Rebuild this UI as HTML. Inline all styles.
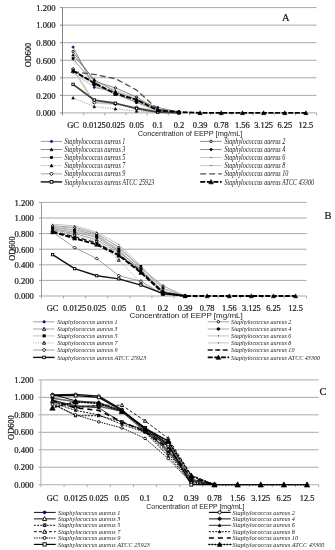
<!DOCTYPE html>
<html><head><meta charset="utf-8"><style>
html,body{margin:0;padding:0;background:#fff;}
svg{display:block;filter:blur(0.25px);}
.t{stroke:#1a1a1a;stroke-width:0.22px;}
</style></head><body>
<svg width="335" height="550" viewBox="0 0 335 550">
<rect width="335" height="550" fill="#fff"/>
<line x1="62.5" y1="95.35" x2="316.5" y2="95.35" stroke="#a9a9a9" stroke-width="1"/>
<line x1="62.5" y1="77.8" x2="316.5" y2="77.8" stroke="#a9a9a9" stroke-width="1"/>
<line x1="62.5" y1="60.25" x2="316.5" y2="60.25" stroke="#a9a9a9" stroke-width="1"/>
<line x1="62.5" y1="42.7" x2="316.5" y2="42.7" stroke="#a9a9a9" stroke-width="1"/>
<line x1="62.5" y1="25.15" x2="316.5" y2="25.15" stroke="#a9a9a9" stroke-width="1"/>
<line x1="62.5" y1="7.6" x2="316.5" y2="7.6" stroke="#a9a9a9" stroke-width="1"/>
<line x1="62.5" y1="7.6" x2="62.5" y2="115.4" stroke="#858585" stroke-width="1"/>
<line x1="62.5" y1="112.9" x2="316.5" y2="112.9" stroke="#a8a8a8" stroke-width="1"/>
<line x1="60" y1="112.9" x2="62.5" y2="112.9" stroke="#858585" stroke-width="1"/>
<line x1="60" y1="95.35" x2="62.5" y2="95.35" stroke="#858585" stroke-width="1"/>
<line x1="60" y1="77.8" x2="62.5" y2="77.8" stroke="#858585" stroke-width="1"/>
<line x1="60" y1="60.25" x2="62.5" y2="60.25" stroke="#858585" stroke-width="1"/>
<line x1="60" y1="42.7" x2="62.5" y2="42.7" stroke="#858585" stroke-width="1"/>
<line x1="60" y1="25.15" x2="62.5" y2="25.15" stroke="#858585" stroke-width="1"/>
<line x1="60" y1="7.6" x2="62.5" y2="7.6" stroke="#858585" stroke-width="1"/>
<line x1="83.67" y1="112.9" x2="83.67" y2="115.4" stroke="#a8a8a8" stroke-width="1"/>
<line x1="104.83" y1="112.9" x2="104.83" y2="115.4" stroke="#a8a8a8" stroke-width="1"/>
<line x1="126" y1="112.9" x2="126" y2="115.4" stroke="#a8a8a8" stroke-width="1"/>
<line x1="147.17" y1="112.9" x2="147.17" y2="115.4" stroke="#a8a8a8" stroke-width="1"/>
<line x1="168.33" y1="112.9" x2="168.33" y2="115.4" stroke="#a8a8a8" stroke-width="1"/>
<line x1="189.5" y1="112.9" x2="189.5" y2="115.4" stroke="#a8a8a8" stroke-width="1"/>
<line x1="210.67" y1="112.9" x2="210.67" y2="115.4" stroke="#a8a8a8" stroke-width="1"/>
<line x1="231.83" y1="112.9" x2="231.83" y2="115.4" stroke="#a8a8a8" stroke-width="1"/>
<line x1="253" y1="112.9" x2="253" y2="115.4" stroke="#a8a8a8" stroke-width="1"/>
<line x1="274.17" y1="112.9" x2="274.17" y2="115.4" stroke="#a8a8a8" stroke-width="1"/>
<line x1="295.33" y1="112.9" x2="295.33" y2="115.4" stroke="#a8a8a8" stroke-width="1"/>
<line x1="316.5" y1="112.9" x2="316.5" y2="115.4" stroke="#a8a8a8" stroke-width="1"/>
<text x="55.6" y="116.2" text-anchor="end" class="t" font-family="Liberation Serif" font-size="8.6" fill="#1a1a1a">0.000</text>
<text x="55.6" y="98.65" text-anchor="end" class="t" font-family="Liberation Serif" font-size="8.6" fill="#1a1a1a">0.200</text>
<text x="55.6" y="81.1" text-anchor="end" class="t" font-family="Liberation Serif" font-size="8.6" fill="#1a1a1a">0.400</text>
<text x="55.6" y="63.55" text-anchor="end" class="t" font-family="Liberation Serif" font-size="8.6" fill="#1a1a1a">0.600</text>
<text x="55.6" y="46" text-anchor="end" class="t" font-family="Liberation Serif" font-size="8.6" fill="#1a1a1a">0.800</text>
<text x="55.6" y="28.45" text-anchor="end" class="t" font-family="Liberation Serif" font-size="8.6" fill="#1a1a1a">1.000</text>
<text x="55.6" y="10.9" text-anchor="end" class="t" font-family="Liberation Serif" font-size="8.6" fill="#1a1a1a">1.200</text>
<text x="73.08" y="128.3" text-anchor="middle" class="t" font-family="Liberation Serif" font-size="8.4" fill="#1a1a1a">GC</text>
<text x="94.25" y="128.3" text-anchor="middle" class="t" font-family="Liberation Serif" font-size="8.4" fill="#1a1a1a">0.0125</text>
<text x="115.42" y="128.3" text-anchor="middle" class="t" font-family="Liberation Serif" font-size="8.4" fill="#1a1a1a">0.025</text>
<text x="136.58" y="128.3" text-anchor="middle" class="t" font-family="Liberation Serif" font-size="8.4" fill="#1a1a1a">0.05</text>
<text x="157.75" y="128.3" text-anchor="middle" class="t" font-family="Liberation Serif" font-size="8.4" fill="#1a1a1a">0.1</text>
<text x="178.92" y="128.3" text-anchor="middle" class="t" font-family="Liberation Serif" font-size="8.4" fill="#1a1a1a">0.2</text>
<text x="200.08" y="128.3" text-anchor="middle" class="t" font-family="Liberation Serif" font-size="8.4" fill="#1a1a1a">0.39</text>
<text x="221.25" y="128.3" text-anchor="middle" class="t" font-family="Liberation Serif" font-size="8.4" fill="#1a1a1a">0.78</text>
<text x="242.42" y="128.3" text-anchor="middle" class="t" font-family="Liberation Serif" font-size="8.4" fill="#1a1a1a">1.56</text>
<text x="263.58" y="128.3" text-anchor="middle" class="t" font-family="Liberation Serif" font-size="8.4" fill="#1a1a1a">3.125</text>
<text x="284.75" y="128.3" text-anchor="middle" class="t" font-family="Liberation Serif" font-size="8.4" fill="#1a1a1a">6.25</text>
<text x="305.92" y="128.3" text-anchor="middle" class="t" font-family="Liberation Serif" font-size="8.4" fill="#1a1a1a">12.5</text>
<text x="137.7" y="136.4" font-family="Liberation Sans" font-size="7.4" fill="#1a1a1a" transform="translate(137.7 136.4) scale(1.0 1) translate(-137.7 -136.4)">Concentration of EEPP [mg/mL]</text>
<text x="0" y="0" text-anchor="middle" class="t" font-family="Liberation Serif" font-size="8.3" fill="#1a1a1a" transform="translate(30.8 55) rotate(-90)">OD600</text>
<text x="282" y="21.1" class="t" font-family="Liberation Serif" font-size="10.5" font-weight="normal" fill="#1a1a1a">A</text>
<polyline points="73.08,47.09 94.25,87.45 115.42,91.84 136.58,99.74 157.75,107.37 178.92,112.02" fill="none" stroke="#7f7f7f" stroke-width="0.8" stroke-linejoin="round"/>
<polyline points="73.08,51.47 94.25,81.31 115.42,87.89 136.58,97.11 157.75,109.39 178.92,112.02" fill="none" stroke="#6f6f6f" stroke-width="0.8" stroke-linejoin="round"/>
<polyline points="73.08,54.98 94.25,79.56 115.42,91.84 136.58,99.74 157.75,110.27 178.92,112.02" fill="none" stroke="#6f6f6f" stroke-width="0.8" stroke-linejoin="round"/>
<polyline points="73.08,69.9 94.25,83.94 115.42,93.59 136.58,102.37 157.75,110.27 178.92,112.02" fill="none" stroke="#6f6f6f" stroke-width="0.8" stroke-linejoin="round"/>
<polyline points="73.08,58.5 94.25,84.82 115.42,94.47 136.58,102.37 157.75,111.15 178.92,112.02" fill="none" stroke="#a0a0a0" stroke-width="0.8" stroke-linejoin="round"/>
<polyline points="73.08,60.25 94.25,81.31 115.42,90.09 136.58,98.86 157.75,109.39 178.92,112.02" fill="none" stroke="#b5b5b5" stroke-width="0.8" stroke-linejoin="round"/>
<polyline points="73.08,97.98 94.25,106.58 115.42,108.86 136.58,111.15 157.75,112.02 178.92,112.9" fill="none" stroke="#8a8a8a" stroke-width="0.8" stroke-dasharray="1.2,1.2" stroke-linejoin="round"/>
<polyline points="73.08,73.41 94.25,86.58 115.42,91.84 136.58,99.74 157.75,110.27 178.92,112.02" fill="none" stroke="#b5b5b5" stroke-width="0.8" stroke-linejoin="round"/>
<polyline points="73.08,69.03 94.25,102.63 115.42,104.12 136.58,107.64 157.75,111.15 178.92,112.02" fill="none" stroke="#c8c8c8" stroke-width="1.6" stroke-linejoin="round"/>
<polyline points="73.08,71.66 94.25,74.47 115.42,78.68 136.58,90.09 157.75,109.39 178.92,112.02" fill="none" stroke="#505050" stroke-width="1.3" stroke-dasharray="6,3" stroke-linejoin="round"/>
<polyline points="73.08,84.38 94.25,100.09 115.42,103.25 136.58,108.51 157.75,112.02 178.92,112.9" fill="none" stroke="#444444" stroke-width="1.8" stroke-linejoin="round"/>
<polyline points="73.08,70.78 94.25,83.06 115.42,93.59 136.58,99.74 157.75,110.27 178.92,112.02 200.08,112.9 221.25,112.9 242.42,112.9 263.58,112.9 284.75,112.9 305.92,112.9" fill="none" stroke="#000000" stroke-width="1.9" stroke-dasharray="5,1.6" stroke-linejoin="round"/>
<path d="M73.08 45.74L74.43 47.09L73.08 48.43L71.74 47.09Z" fill="#0a0a6e" stroke="#0a0a6e" stroke-width="0.6"/>
<path d="M94.25 86.11L95.59 87.45L94.25 88.8L92.91 87.45Z" fill="#0a0a6e" stroke="#0a0a6e" stroke-width="0.6"/>
<path d="M115.42 90.5L116.76 91.84L115.42 93.18L114.07 91.84Z" fill="#0a0a6e" stroke="#0a0a6e" stroke-width="0.6"/>
<path d="M136.58 98.39L137.93 99.74L136.58 101.08L135.24 99.74Z" fill="#0a0a6e" stroke="#0a0a6e" stroke-width="0.6"/>
<path d="M157.75 106.03L159.09 107.37L157.75 108.72L156.41 107.37Z" fill="#0a0a6e" stroke="#0a0a6e" stroke-width="0.6"/>
<path d="M178.92 110.68L180.26 112.02L178.92 113.37L177.57 112.02Z" fill="#0a0a6e" stroke="#0a0a6e" stroke-width="0.6"/>
<circle cx="73.08" cy="51.47" r="1.09" fill="#fff" stroke="#000" stroke-width="0.9"/>
<circle cx="94.25" cy="81.31" r="1.09" fill="#fff" stroke="#000" stroke-width="0.9"/>
<circle cx="115.42" cy="87.89" r="1.09" fill="#fff" stroke="#000" stroke-width="0.9"/>
<circle cx="136.58" cy="97.11" r="1.09" fill="#fff" stroke="#000" stroke-width="0.9"/>
<circle cx="157.75" cy="109.39" r="1.09" fill="#fff" stroke="#000" stroke-width="0.9"/>
<circle cx="178.92" cy="112.02" r="1.09" fill="#fff" stroke="#000" stroke-width="0.9"/>
<path d="M73.08 53.6L74.4 56.12L71.76 56.12Z" fill="#000" stroke="#000" stroke-width="0.6"/>
<path d="M94.25 78.18L95.57 80.7L92.93 80.7Z" fill="#000" stroke="#000" stroke-width="0.6"/>
<path d="M115.42 90.46L116.74 92.98L114.1 92.98Z" fill="#000" stroke="#000" stroke-width="0.6"/>
<path d="M136.58 98.36L137.9 100.88L135.26 100.88Z" fill="#000" stroke="#000" stroke-width="0.6"/>
<path d="M157.75 108.89L159.07 111.41L156.43 111.41Z" fill="#000" stroke="#000" stroke-width="0.6"/>
<path d="M178.92 110.64L180.24 113.16L177.6 113.16Z" fill="#000" stroke="#000" stroke-width="0.6"/>
<path d="M73.08 68.56L74.43 69.9L73.08 71.25L71.74 69.9Z" fill="#000" stroke="#000" stroke-width="0.6"/>
<path d="M94.25 82.6L95.59 83.94L94.25 85.29L92.91 83.94Z" fill="#000" stroke="#000" stroke-width="0.6"/>
<path d="M115.42 92.25L116.76 93.59L115.42 94.94L114.07 93.59Z" fill="#000" stroke="#000" stroke-width="0.6"/>
<path d="M136.58 101.03L137.93 102.37L136.58 103.71L135.24 102.37Z" fill="#000" stroke="#000" stroke-width="0.6"/>
<path d="M157.75 108.92L159.09 110.27L157.75 111.61L156.41 110.27Z" fill="#000" stroke="#000" stroke-width="0.6"/>
<path d="M178.92 110.68L180.26 112.02L178.92 113.37L177.57 112.02Z" fill="#000" stroke="#000" stroke-width="0.6"/>
<rect x="72.04" y="57.46" width="2.08" height="2.08" fill="#000" stroke="#000" stroke-width="0.6"/>
<rect x="93.21" y="83.78" width="2.08" height="2.08" fill="#000" stroke="#000" stroke-width="0.6"/>
<rect x="114.38" y="93.43" width="2.08" height="2.08" fill="#000" stroke="#000" stroke-width="0.6"/>
<rect x="135.54" y="101.33" width="2.08" height="2.08" fill="#000" stroke="#000" stroke-width="0.6"/>
<rect x="156.71" y="110.11" width="2.08" height="2.08" fill="#000" stroke="#000" stroke-width="0.6"/>
<rect x="177.88" y="110.98" width="2.08" height="2.08" fill="#000" stroke="#000" stroke-width="0.6"/>
<rect x="72.68" y="59.85" width="0.8" height="0.8" fill="#000"/>
<rect x="93.85" y="80.91" width="0.8" height="0.8" fill="#000"/>
<rect x="115.02" y="89.69" width="0.8" height="0.8" fill="#000"/>
<rect x="136.18" y="98.46" width="0.8" height="0.8" fill="#000"/>
<rect x="157.35" y="108.99" width="0.8" height="0.8" fill="#000"/>
<rect x="178.52" y="111.62" width="0.8" height="0.8" fill="#000"/>
<path d="M73.08 96.6L74.4 99.12L71.76 99.12Z" fill="#000" stroke="#000" stroke-width="0.6"/>
<path d="M94.25 105.2L95.57 107.72L92.93 107.72Z" fill="#000" stroke="#000" stroke-width="0.6"/>
<path d="M115.42 107.48L116.74 110L114.1 110Z" fill="#000" stroke="#000" stroke-width="0.6"/>
<path d="M136.58 109.77L137.9 112.29L135.26 112.29Z" fill="#000" stroke="#000" stroke-width="0.6"/>
<path d="M157.75 110.64L159.07 113.16L156.43 113.16Z" fill="#000" stroke="#000" stroke-width="0.6"/>
<path d="M178.92 111.52L180.24 114.04L177.6 114.04Z" fill="#000" stroke="#000" stroke-width="0.6"/>
<rect x="72.68" y="73.01" width="0.8" height="0.8" fill="#000"/>
<rect x="93.85" y="86.17" width="0.8" height="0.8" fill="#000"/>
<rect x="115.02" y="91.44" width="0.8" height="0.8" fill="#000"/>
<rect x="136.18" y="99.34" width="0.8" height="0.8" fill="#000"/>
<rect x="157.35" y="109.87" width="0.8" height="0.8" fill="#000"/>
<rect x="178.52" y="111.62" width="0.8" height="0.8" fill="#000"/>
<path d="M73.08 67.39L74.72 69.03L73.08 70.66L71.45 69.03Z" fill="#fff" stroke="#000" stroke-width="0.9"/>
<path d="M94.25 101L95.88 102.63L94.25 104.27L92.62 102.63Z" fill="#fff" stroke="#000" stroke-width="0.9"/>
<path d="M115.42 102.49L117.05 104.12L115.42 105.76L113.78 104.12Z" fill="#fff" stroke="#000" stroke-width="0.9"/>
<path d="M136.58 106L138.22 107.64L136.58 109.27L134.95 107.64Z" fill="#fff" stroke="#000" stroke-width="0.9"/>
<path d="M157.75 109.51L159.38 111.15L157.75 112.78L156.12 111.15Z" fill="#fff" stroke="#000" stroke-width="0.9"/>
<path d="M178.92 110.39L180.55 112.02L178.92 113.65L177.28 112.02Z" fill="#fff" stroke="#000" stroke-width="0.9"/>
<rect x="71.88" y="83.18" width="2.4" height="2.4" fill="#fff" stroke="#000" stroke-width="0.9"/>
<rect x="93.05" y="98.89" width="2.4" height="2.4" fill="#fff" stroke="#000" stroke-width="0.9"/>
<rect x="114.22" y="102.05" width="2.4" height="2.4" fill="#fff" stroke="#000" stroke-width="0.9"/>
<rect x="135.38" y="107.31" width="2.4" height="2.4" fill="#fff" stroke="#000" stroke-width="0.9"/>
<rect x="156.55" y="110.82" width="2.4" height="2.4" fill="#fff" stroke="#000" stroke-width="0.9"/>
<rect x="177.72" y="111.7" width="2.4" height="2.4" fill="#fff" stroke="#000" stroke-width="0.9"/>
<path d="M73.08 68.66L75.11 72.53L71.06 72.53Z" fill="#000" stroke="#000" stroke-width="0.6"/>
<path d="M94.25 80.95L96.27 84.81L92.23 84.81Z" fill="#000" stroke="#000" stroke-width="0.6"/>
<path d="M115.42 91.48L117.44 95.34L113.39 95.34Z" fill="#000" stroke="#000" stroke-width="0.6"/>
<path d="M136.58 97.62L138.61 101.49L134.56 101.49Z" fill="#000" stroke="#000" stroke-width="0.6"/>
<path d="M157.75 108.15L159.77 112.02L155.73 112.02Z" fill="#000" stroke="#000" stroke-width="0.6"/>
<path d="M178.92 109.91L180.94 113.77L176.89 113.77Z" fill="#000" stroke="#000" stroke-width="0.6"/>
<path d="M200.08 110.78L202.11 114.65L198.06 114.65Z" fill="#000" stroke="#000" stroke-width="0.6"/>
<path d="M221.25 110.78L223.27 114.65L219.23 114.65Z" fill="#000" stroke="#000" stroke-width="0.6"/>
<path d="M242.42 110.78L244.44 114.65L240.39 114.65Z" fill="#000" stroke="#000" stroke-width="0.6"/>
<path d="M263.58 110.78L265.61 114.65L261.56 114.65Z" fill="#000" stroke="#000" stroke-width="0.6"/>
<path d="M284.75 110.78L286.77 114.65L282.73 114.65Z" fill="#000" stroke="#000" stroke-width="0.6"/>
<path d="M305.92 110.78L307.94 114.65L303.89 114.65Z" fill="#000" stroke="#000" stroke-width="0.6"/>
<line x1="40.7" y1="141.4" x2="62.1" y2="141.4" stroke="#7f7f7f" stroke-width="0.8"/>
<path d="M51.5 139.89L53.01 141.4L51.5 142.91L49.99 141.4Z" fill="#0a0a6e" stroke="#0a0a6e" stroke-width="0.6"/>
<text x="64.6" y="143.5" font-family="Liberation Serif" font-style="italic" font-size="6.15" fill="#1a1a1a" transform="translate(64.6 141.4) scale(1 1.25) translate(-64.6 -141.4)">Staphylococcus aureus 1</text>
<line x1="40.7" y1="149.5" x2="62.1" y2="149.5" stroke="#6f6f6f" stroke-width="0.8"/>
<path d="M51.5 147.95L52.98 150.78L50.02 150.78Z" fill="#000" stroke="#000" stroke-width="0.6"/>
<text x="64.6" y="151.6" font-family="Liberation Serif" font-style="italic" font-size="6.15" fill="#1a1a1a" transform="translate(64.6 149.5) scale(1 1.25) translate(-64.6 -149.5)">Staphylococcus aureus 3</text>
<line x1="40.7" y1="157.5" x2="62.1" y2="157.5" stroke="#a0a0a0" stroke-width="0.8"/>
<rect x="50.33" y="156.33" width="2.34" height="2.34" fill="#000" stroke="#000" stroke-width="0.6"/>
<text x="64.6" y="159.6" font-family="Liberation Serif" font-style="italic" font-size="6.15" fill="#1a1a1a" transform="translate(64.6 157.5) scale(1 1.25) translate(-64.6 -157.5)">Staphylococcus aureus 5</text>
<line x1="40.7" y1="165.6" x2="62.1" y2="165.6" stroke="#8a8a8a" stroke-width="0.8" stroke-dasharray="1.2,1.2"/>
<path d="M51.5 164.05L52.98 166.88L50.02 166.88Z" fill="#000" stroke="#000" stroke-width="0.6"/>
<text x="64.6" y="167.7" font-family="Liberation Serif" font-style="italic" font-size="6.15" fill="#1a1a1a" transform="translate(64.6 165.6) scale(1 1.25) translate(-64.6 -165.6)">Staphylococcus aureus 7</text>
<line x1="40.7" y1="173.8" x2="62.1" y2="173.8" stroke="#c8c8c8" stroke-width="1.6"/>
<path d="M51.5 171.96L53.34 173.8L51.5 175.64L49.66 173.8Z" fill="#fff" stroke="#000" stroke-width="0.9"/>
<text x="64.6" y="175.9" font-family="Liberation Serif" font-style="italic" font-size="6.15" fill="#1a1a1a" transform="translate(64.6 173.8) scale(1 1.25) translate(-64.6 -173.8)">Staphylococcus aureus 9</text>
<line x1="40.7" y1="181.9" x2="62.1" y2="181.9" stroke="#444444" stroke-width="1.8"/>
<rect x="50.15" y="180.55" width="2.7" height="2.7" fill="#fff" stroke="#000" stroke-width="0.9"/>
<text x="64.6" y="184" font-family="Liberation Serif" font-style="italic" font-size="6.15" fill="#1a1a1a" transform="translate(64.6 181.9) scale(1 1.25) translate(-64.6 -181.9)">Staphylococcus aureus ATCC 25923</text>
<line x1="200.2" y1="141.4" x2="221.7" y2="141.4" stroke="#6f6f6f" stroke-width="0.8"/>
<circle cx="211.1" cy="141.4" r="1.22" fill="#fff" stroke="#000" stroke-width="0.9"/>
<text x="224.4" y="143.5" font-family="Liberation Serif" font-style="italic" font-size="6.15" fill="#1a1a1a" transform="translate(224.4 141.4) scale(1 1.25) translate(-224.4 -141.4)">Staphylococcus aureus 2</text>
<line x1="200.2" y1="149.5" x2="221.7" y2="149.5" stroke="#6f6f6f" stroke-width="0.8"/>
<path d="M211.1 147.99L212.61 149.5L211.1 151.01L209.59 149.5Z" fill="#000" stroke="#000" stroke-width="0.6"/>
<text x="224.4" y="151.6" font-family="Liberation Serif" font-style="italic" font-size="6.15" fill="#1a1a1a" transform="translate(224.4 149.5) scale(1 1.25) translate(-224.4 -149.5)">Staphylococcus aureus 4</text>
<line x1="200.2" y1="157.5" x2="221.7" y2="157.5" stroke="#b5b5b5" stroke-width="0.8"/>
<rect x="210.65" y="157.05" width="0.9" height="0.9" fill="#000"/>
<text x="224.4" y="159.6" font-family="Liberation Serif" font-style="italic" font-size="6.15" fill="#1a1a1a" transform="translate(224.4 157.5) scale(1 1.25) translate(-224.4 -157.5)">Staphylococcus aureus 6</text>
<line x1="200.2" y1="165.6" x2="221.7" y2="165.6" stroke="#b5b5b5" stroke-width="0.8"/>
<rect x="210.65" y="165.15" width="0.9" height="0.9" fill="#000"/>
<text x="224.4" y="167.7" font-family="Liberation Serif" font-style="italic" font-size="6.15" fill="#1a1a1a" transform="translate(224.4 165.6) scale(1 1.25) translate(-224.4 -165.6)">Staphylococcus aureus 8</text>
<line x1="200.2" y1="173.8" x2="221.7" y2="173.8" stroke="#505050" stroke-width="1.3" stroke-dasharray="6,3"/>

<text x="224.4" y="175.9" font-family="Liberation Serif" font-style="italic" font-size="6.15" fill="#1a1a1a" transform="translate(224.4 173.8) scale(1 1.25) translate(-224.4 -173.8)">Staphylococcus aureus 10</text>
<line x1="200.2" y1="181.9" x2="221.7" y2="181.9" stroke="#000000" stroke-width="1.9" stroke-dasharray="5,1.6"/>
<path d="M211.1 179.52L213.38 183.87L208.82 183.87Z" fill="#000" stroke="#000" stroke-width="0.6"/>
<text x="224.4" y="184" font-family="Liberation Serif" font-style="italic" font-size="6.15" fill="#1a1a1a" transform="translate(224.4 181.9) scale(1 1.25) translate(-224.4 -181.9)">Staphylococcus aureus ATCC 43300</text>
<line x1="41.5" y1="280.4" x2="306.6" y2="280.4" stroke="#a9a9a9" stroke-width="1"/>
<line x1="41.5" y1="264.8" x2="306.6" y2="264.8" stroke="#a9a9a9" stroke-width="1"/>
<line x1="41.5" y1="249.2" x2="306.6" y2="249.2" stroke="#a9a9a9" stroke-width="1"/>
<line x1="41.5" y1="233.6" x2="306.6" y2="233.6" stroke="#a9a9a9" stroke-width="1"/>
<line x1="41.5" y1="218" x2="306.6" y2="218" stroke="#a9a9a9" stroke-width="1"/>
<line x1="41.5" y1="202.4" x2="306.6" y2="202.4" stroke="#a9a9a9" stroke-width="1"/>
<line x1="41.5" y1="202.4" x2="41.5" y2="298.5" stroke="#999999" stroke-width="1"/>
<line x1="41.5" y1="296" x2="306.6" y2="296" stroke="#a8a8a8" stroke-width="1"/>
<line x1="39" y1="296" x2="41.5" y2="296" stroke="#999999" stroke-width="1"/>
<line x1="39" y1="280.4" x2="41.5" y2="280.4" stroke="#999999" stroke-width="1"/>
<line x1="39" y1="264.8" x2="41.5" y2="264.8" stroke="#999999" stroke-width="1"/>
<line x1="39" y1="249.2" x2="41.5" y2="249.2" stroke="#999999" stroke-width="1"/>
<line x1="39" y1="233.6" x2="41.5" y2="233.6" stroke="#999999" stroke-width="1"/>
<line x1="39" y1="218" x2="41.5" y2="218" stroke="#999999" stroke-width="1"/>
<line x1="39" y1="202.4" x2="41.5" y2="202.4" stroke="#999999" stroke-width="1"/>
<line x1="63.59" y1="296" x2="63.59" y2="298.5" stroke="#a8a8a8" stroke-width="1"/>
<line x1="85.68" y1="296" x2="85.68" y2="298.5" stroke="#a8a8a8" stroke-width="1"/>
<line x1="107.78" y1="296" x2="107.78" y2="298.5" stroke="#a8a8a8" stroke-width="1"/>
<line x1="129.87" y1="296" x2="129.87" y2="298.5" stroke="#a8a8a8" stroke-width="1"/>
<line x1="151.96" y1="296" x2="151.96" y2="298.5" stroke="#a8a8a8" stroke-width="1"/>
<line x1="174.05" y1="296" x2="174.05" y2="298.5" stroke="#a8a8a8" stroke-width="1"/>
<line x1="196.14" y1="296" x2="196.14" y2="298.5" stroke="#a8a8a8" stroke-width="1"/>
<line x1="218.23" y1="296" x2="218.23" y2="298.5" stroke="#a8a8a8" stroke-width="1"/>
<line x1="240.33" y1="296" x2="240.33" y2="298.5" stroke="#a8a8a8" stroke-width="1"/>
<line x1="262.42" y1="296" x2="262.42" y2="298.5" stroke="#a8a8a8" stroke-width="1"/>
<line x1="284.51" y1="296" x2="284.51" y2="298.5" stroke="#a8a8a8" stroke-width="1"/>
<line x1="306.6" y1="296" x2="306.6" y2="298.5" stroke="#a8a8a8" stroke-width="1"/>
<text x="33.8" y="299.3" text-anchor="end" class="t" font-family="Liberation Serif" font-size="8.6" fill="#1a1a1a">0.000</text>
<text x="33.8" y="283.7" text-anchor="end" class="t" font-family="Liberation Serif" font-size="8.6" fill="#1a1a1a">0.200</text>
<text x="33.8" y="268.1" text-anchor="end" class="t" font-family="Liberation Serif" font-size="8.6" fill="#1a1a1a">0.400</text>
<text x="33.8" y="252.5" text-anchor="end" class="t" font-family="Liberation Serif" font-size="8.6" fill="#1a1a1a">0.600</text>
<text x="33.8" y="236.9" text-anchor="end" class="t" font-family="Liberation Serif" font-size="8.6" fill="#1a1a1a">0.800</text>
<text x="33.8" y="221.3" text-anchor="end" class="t" font-family="Liberation Serif" font-size="8.6" fill="#1a1a1a">1.000</text>
<text x="33.8" y="205.7" text-anchor="end" class="t" font-family="Liberation Serif" font-size="8.6" fill="#1a1a1a">1.200</text>
<text x="52.55" y="311.3" text-anchor="middle" class="t" font-family="Liberation Serif" font-size="8.4" fill="#1a1a1a">GC</text>
<text x="74.64" y="311.3" text-anchor="middle" class="t" font-family="Liberation Serif" font-size="8.4" fill="#1a1a1a">0.0125</text>
<text x="96.73" y="311.3" text-anchor="middle" class="t" font-family="Liberation Serif" font-size="8.4" fill="#1a1a1a">0.025</text>
<text x="118.82" y="311.3" text-anchor="middle" class="t" font-family="Liberation Serif" font-size="8.4" fill="#1a1a1a">0.05</text>
<text x="140.91" y="311.3" text-anchor="middle" class="t" font-family="Liberation Serif" font-size="8.4" fill="#1a1a1a">0.1</text>
<text x="163" y="311.3" text-anchor="middle" class="t" font-family="Liberation Serif" font-size="8.4" fill="#1a1a1a">0.2</text>
<text x="185.1" y="311.3" text-anchor="middle" class="t" font-family="Liberation Serif" font-size="8.4" fill="#1a1a1a">0.39</text>
<text x="207.19" y="311.3" text-anchor="middle" class="t" font-family="Liberation Serif" font-size="8.4" fill="#1a1a1a">0.78</text>
<text x="229.28" y="311.3" text-anchor="middle" class="t" font-family="Liberation Serif" font-size="8.4" fill="#1a1a1a">1.56</text>
<text x="251.37" y="311.3" text-anchor="middle" class="t" font-family="Liberation Serif" font-size="8.4" fill="#1a1a1a">3.125</text>
<text x="273.46" y="311.3" text-anchor="middle" class="t" font-family="Liberation Serif" font-size="8.4" fill="#1a1a1a">6.25</text>
<text x="295.55" y="311.3" text-anchor="middle" class="t" font-family="Liberation Serif" font-size="8.4" fill="#1a1a1a">12.5</text>
<text x="129.5" y="318" font-family="Liberation Sans" font-size="8.0" fill="#1a1a1a" transform="translate(129.5 318) scale(1.0 1) translate(-129.5 -318)">Concentration of EEPP [mg/mL]</text>
<text x="0" y="0" text-anchor="middle" class="t" font-family="Liberation Serif" font-size="8.3" fill="#1a1a1a" transform="translate(14.5 248.6) rotate(-90)">OD600</text>
<text x="324.6" y="219.1" class="t" font-family="Liberation Serif" font-size="10.5" font-weight="normal" fill="#1a1a1a">B</text>
<polyline points="52.55,227.36 74.64,229.7 96.73,235.16 118.82,250.76 140.91,270.26 163,292.1 185.1,296" fill="none" stroke="#8a8a8a" stroke-width="0.8" stroke-linejoin="round"/>
<polyline points="52.55,225.8 74.64,227.36 96.73,233.6 118.82,247.64 140.91,267.92 163,285.86 185.1,296" fill="none" stroke="#8a8a8a" stroke-width="0.8" stroke-linejoin="round"/>
<polyline points="52.55,229.7 74.64,233.6 96.73,239.84 118.82,253.1 140.91,272.6 163,292.88 185.1,296" fill="none" stroke="#8a8a8a" stroke-width="0.8" stroke-linejoin="round"/>
<polyline points="52.55,228.92 74.64,232.04 96.73,237.5 118.82,251.54 140.91,269.48 163,291.32 185.1,296" fill="none" stroke="#8a8a8a" stroke-width="0.8" stroke-linejoin="round"/>
<polyline points="52.55,228.14 74.64,230.48 96.73,236.72 118.82,249.2 140.91,266.36 163,288.2 185.1,296" fill="none" stroke="#b5b5b5" stroke-width="0.8" stroke-linejoin="round"/>
<polyline points="52.55,224.24 74.64,225.8 96.73,232.04 118.82,244.52 140.91,265.58 163,292.1 185.1,296" fill="none" stroke="#b5b5b5" stroke-width="0.8" stroke-linejoin="round"/>
<polyline points="52.55,230.48 74.64,235.16 96.73,241.4 118.82,260.12 140.91,282.74 163,294.44 185.1,296" fill="none" stroke="#a0a0a0" stroke-width="0.8" stroke-dasharray="1.2,1.2" stroke-linejoin="round"/>
<polyline points="52.55,226.58 74.64,228.14 96.73,234.38 118.82,246.86 140.91,267.14 163,288.98 185.1,296" fill="none" stroke="#b5b5b5" stroke-width="0.8" stroke-linejoin="round"/>
<polyline points="52.55,232.04 74.64,247.64 96.73,258.56 118.82,275.72 140.91,281.18 163,294.44 185.1,296" fill="none" stroke="#8a8a8a" stroke-width="0.8" stroke-linejoin="round"/>
<polyline points="52.55,231.26 74.64,236.72 96.73,242.96 118.82,254.66 140.91,271.04 163,292.1 185.1,296" fill="none" stroke="#1a1a1a" stroke-width="1.3" stroke-dasharray="5,2.5" stroke-linejoin="round"/>
<polyline points="52.55,254.66 74.64,268.7 96.73,275.72 118.82,278.84 140.91,285.08 163,293.66 185.1,296" fill="none" stroke="#111111" stroke-width="1.4" stroke-linejoin="round"/>
<polyline points="52.55,232.04 74.64,238.28 96.73,244.52 118.82,255.44 140.91,272.6 163,292.88 185.1,296 207.19,296 229.28,296 251.37,296 273.46,296 295.55,296" fill="none" stroke="#000000" stroke-width="1.9" stroke-dasharray="5,1.6" stroke-linejoin="round"/>
<circle cx="52.55" cy="227.36" r="1.04" fill="#0a0a6e" stroke="#0a0a6e" stroke-width="0.8"/>
<circle cx="74.64" cy="229.7" r="1.04" fill="#0a0a6e" stroke="#0a0a6e" stroke-width="0.8"/>
<circle cx="96.73" cy="235.16" r="1.04" fill="#0a0a6e" stroke="#0a0a6e" stroke-width="0.8"/>
<circle cx="118.82" cy="250.76" r="1.04" fill="#0a0a6e" stroke="#0a0a6e" stroke-width="0.8"/>
<circle cx="140.91" cy="270.26" r="1.04" fill="#0a0a6e" stroke="#0a0a6e" stroke-width="0.8"/>
<circle cx="163" cy="292.1" r="1.04" fill="#0a0a6e" stroke="#0a0a6e" stroke-width="0.8"/>
<circle cx="185.1" cy="296" r="1.04" fill="#0a0a6e" stroke="#0a0a6e" stroke-width="0.8"/>
<circle cx="52.55" cy="225.8" r="1.09" fill="#fff" stroke="#000" stroke-width="0.9"/>
<circle cx="74.64" cy="227.36" r="1.09" fill="#fff" stroke="#000" stroke-width="0.9"/>
<circle cx="96.73" cy="233.6" r="1.09" fill="#fff" stroke="#000" stroke-width="0.9"/>
<circle cx="118.82" cy="247.64" r="1.09" fill="#fff" stroke="#000" stroke-width="0.9"/>
<circle cx="140.91" cy="267.92" r="1.09" fill="#fff" stroke="#000" stroke-width="0.9"/>
<circle cx="163" cy="285.86" r="1.09" fill="#fff" stroke="#000" stroke-width="0.9"/>
<circle cx="185.1" cy="296" r="1.09" fill="#fff" stroke="#000" stroke-width="0.9"/>
<path d="M52.55 228.16L53.95 230.85L51.14 230.85Z" fill="#fff" stroke="#000" stroke-width="0.9"/>
<path d="M74.64 232.06L76.05 234.75L73.23 234.75Z" fill="#fff" stroke="#000" stroke-width="0.9"/>
<path d="M96.73 238.3L98.14 240.99L95.32 240.99Z" fill="#fff" stroke="#000" stroke-width="0.9"/>
<path d="M118.82 251.56L120.23 254.25L117.41 254.25Z" fill="#fff" stroke="#000" stroke-width="0.9"/>
<path d="M140.91 271.06L142.32 273.75L139.5 273.75Z" fill="#fff" stroke="#000" stroke-width="0.9"/>
<path d="M163 291.34L164.41 294.03L161.6 294.03Z" fill="#fff" stroke="#000" stroke-width="0.9"/>
<path d="M185.1 294.46L186.5 297.15L183.69 297.15Z" fill="#fff" stroke="#000" stroke-width="0.9"/>
<circle cx="52.55" cy="228.92" r="1.2" fill="#000" stroke="#000" stroke-width="0.8"/>
<circle cx="74.64" cy="232.04" r="1.2" fill="#000" stroke="#000" stroke-width="0.8"/>
<circle cx="96.73" cy="237.5" r="1.2" fill="#000" stroke="#000" stroke-width="0.8"/>
<circle cx="118.82" cy="251.54" r="1.2" fill="#000" stroke="#000" stroke-width="0.8"/>
<circle cx="140.91" cy="269.48" r="1.2" fill="#000" stroke="#000" stroke-width="0.8"/>
<circle cx="163" cy="291.32" r="1.2" fill="#000" stroke="#000" stroke-width="0.8"/>
<circle cx="185.1" cy="296" r="1.2" fill="#000" stroke="#000" stroke-width="0.8"/>
<rect x="51.51" y="227.1" width="2.08" height="2.08" fill="#000" stroke="#000" stroke-width="0.6"/>
<rect x="73.6" y="229.44" width="2.08" height="2.08" fill="#000" stroke="#000" stroke-width="0.6"/>
<rect x="95.69" y="235.68" width="2.08" height="2.08" fill="#000" stroke="#000" stroke-width="0.6"/>
<rect x="117.78" y="248.16" width="2.08" height="2.08" fill="#000" stroke="#000" stroke-width="0.6"/>
<rect x="139.87" y="265.32" width="2.08" height="2.08" fill="#000" stroke="#000" stroke-width="0.6"/>
<rect x="161.96" y="287.16" width="2.08" height="2.08" fill="#000" stroke="#000" stroke-width="0.6"/>
<rect x="184.06" y="294.96" width="2.08" height="2.08" fill="#000" stroke="#000" stroke-width="0.6"/>
<rect x="52.15" y="223.84" width="0.8" height="0.8" fill="#000"/>
<rect x="74.24" y="225.4" width="0.8" height="0.8" fill="#000"/>
<rect x="96.33" y="231.64" width="0.8" height="0.8" fill="#000"/>
<rect x="118.42" y="244.12" width="0.8" height="0.8" fill="#000"/>
<rect x="140.51" y="265.18" width="0.8" height="0.8" fill="#000"/>
<rect x="162.6" y="291.7" width="0.8" height="0.8" fill="#000"/>
<rect x="184.7" y="295.6" width="0.8" height="0.8" fill="#000"/>
<path d="M52.55 228.94L53.95 231.63L51.14 231.63Z" fill="#fff" stroke="#000" stroke-width="0.9"/>
<path d="M74.64 233.62L76.05 236.31L73.23 236.31Z" fill="#fff" stroke="#000" stroke-width="0.9"/>
<path d="M96.73 239.86L98.14 242.55L95.32 242.55Z" fill="#fff" stroke="#000" stroke-width="0.9"/>
<path d="M118.82 258.58L120.23 261.27L117.41 261.27Z" fill="#fff" stroke="#000" stroke-width="0.9"/>
<path d="M140.91 281.2L142.32 283.89L139.5 283.89Z" fill="#fff" stroke="#000" stroke-width="0.9"/>
<path d="M163 292.9L164.41 295.59L161.6 295.59Z" fill="#fff" stroke="#000" stroke-width="0.9"/>
<path d="M185.1 294.46L186.5 297.15L183.69 297.15Z" fill="#fff" stroke="#000" stroke-width="0.9"/>
<rect x="52.15" y="226.18" width="0.8" height="0.8" fill="#000"/>
<rect x="74.24" y="227.74" width="0.8" height="0.8" fill="#000"/>
<rect x="96.33" y="233.98" width="0.8" height="0.8" fill="#000"/>
<rect x="118.42" y="246.46" width="0.8" height="0.8" fill="#000"/>
<rect x="140.51" y="266.74" width="0.8" height="0.8" fill="#000"/>
<rect x="162.6" y="288.58" width="0.8" height="0.8" fill="#000"/>
<rect x="184.7" y="295.6" width="0.8" height="0.8" fill="#000"/>
<path d="M52.55 230.5L54.08 232.04L52.55 233.58L51.01 232.04Z" fill="#fff" stroke="#000" stroke-width="0.9"/>
<path d="M74.64 246.1L76.17 247.64L74.64 249.18L73.1 247.64Z" fill="#fff" stroke="#000" stroke-width="0.9"/>
<path d="M96.73 257.02L98.27 258.56L96.73 260.1L95.19 258.56Z" fill="#fff" stroke="#000" stroke-width="0.9"/>
<path d="M118.82 274.18L120.36 275.72L118.82 277.26L117.28 275.72Z" fill="#fff" stroke="#000" stroke-width="0.9"/>
<path d="M140.91 279.64L142.45 281.18L140.91 282.72L139.38 281.18Z" fill="#fff" stroke="#000" stroke-width="0.9"/>
<path d="M163 292.9L164.54 294.44L163 295.98L161.47 294.44Z" fill="#fff" stroke="#000" stroke-width="0.9"/>
<path d="M185.1 294.46L186.63 296L185.1 297.54L183.56 296Z" fill="#fff" stroke="#000" stroke-width="0.9"/>
<rect x="52.07" y="230.78" width="0.96" height="0.96" fill="#000"/>
<rect x="74.16" y="236.24" width="0.96" height="0.96" fill="#000"/>
<rect x="96.25" y="242.48" width="0.96" height="0.96" fill="#000"/>
<rect x="118.34" y="254.18" width="0.96" height="0.96" fill="#000"/>
<rect x="140.43" y="270.56" width="0.96" height="0.96" fill="#000"/>
<rect x="162.52" y="291.62" width="0.96" height="0.96" fill="#000"/>
<rect x="184.62" y="295.52" width="0.96" height="0.96" fill="#000"/>
<rect x="51.43" y="253.54" width="2.24" height="2.24" fill="#fff" stroke="#000" stroke-width="0.9"/>
<rect x="73.52" y="267.58" width="2.24" height="2.24" fill="#fff" stroke="#000" stroke-width="0.9"/>
<rect x="95.61" y="274.6" width="2.24" height="2.24" fill="#fff" stroke="#000" stroke-width="0.9"/>
<rect x="117.7" y="277.72" width="2.24" height="2.24" fill="#fff" stroke="#000" stroke-width="0.9"/>
<rect x="139.79" y="283.96" width="2.24" height="2.24" fill="#fff" stroke="#000" stroke-width="0.9"/>
<rect x="161.88" y="292.54" width="2.24" height="2.24" fill="#fff" stroke="#000" stroke-width="0.9"/>
<rect x="183.98" y="294.88" width="2.24" height="2.24" fill="#fff" stroke="#000" stroke-width="0.9"/>
<path d="M52.55 229.92L54.57 233.79L50.52 233.79Z" fill="#000" stroke="#000" stroke-width="0.6"/>
<path d="M74.64 236.16L76.66 240.03L72.61 240.03Z" fill="#000" stroke="#000" stroke-width="0.6"/>
<path d="M96.73 242.4L98.75 246.27L94.71 246.27Z" fill="#000" stroke="#000" stroke-width="0.6"/>
<path d="M118.82 253.32L120.84 257.19L116.8 257.19Z" fill="#000" stroke="#000" stroke-width="0.6"/>
<path d="M140.91 270.48L142.94 274.35L138.89 274.35Z" fill="#000" stroke="#000" stroke-width="0.6"/>
<path d="M163 290.76L165.03 294.63L160.98 294.63Z" fill="#000" stroke="#000" stroke-width="0.6"/>
<path d="M185.1 293.88L187.12 297.75L183.07 297.75Z" fill="#000" stroke="#000" stroke-width="0.6"/>
<path d="M207.19 293.88L209.21 297.75L205.16 297.75Z" fill="#000" stroke="#000" stroke-width="0.6"/>
<path d="M229.28 293.88L231.3 297.75L227.26 297.75Z" fill="#000" stroke="#000" stroke-width="0.6"/>
<path d="M251.37 293.88L253.39 297.75L249.35 297.75Z" fill="#000" stroke="#000" stroke-width="0.6"/>
<path d="M273.46 293.88L275.49 297.75L271.44 297.75Z" fill="#000" stroke="#000" stroke-width="0.6"/>
<path d="M295.55 293.88L297.58 297.75L293.53 297.75Z" fill="#000" stroke="#000" stroke-width="0.6"/>
<line x1="33.1" y1="321.8" x2="54.6" y2="321.8" stroke="#8a8a8a" stroke-width="0.8"/>
<circle cx="44.1" cy="321.8" r="1.17" fill="#0a0a6e" stroke="#0a0a6e" stroke-width="0.8"/>
<text x="57.3" y="323.7" font-family="Liberation Serif" font-style="italic" font-size="6.1" fill="#1a1a1a" transform="translate(57.3 321.8) scale(1 1.15) translate(-57.3 -321.8)">Staphylococcus aureus 1</text>
<line x1="33.1" y1="329" x2="54.6" y2="329" stroke="#8a8a8a" stroke-width="0.8"/>
<path d="M44.1 327.27L45.68 330.3L42.52 330.3Z" fill="#fff" stroke="#000" stroke-width="0.9"/>
<text x="57.3" y="330.9" font-family="Liberation Serif" font-style="italic" font-size="6.1" fill="#1a1a1a" transform="translate(57.3 329) scale(1 1.15) translate(-57.3 -329)">Staphylococcus aureus 3</text>
<line x1="33.1" y1="335.9" x2="54.6" y2="335.9" stroke="#b5b5b5" stroke-width="0.8"/>
<rect x="42.93" y="334.73" width="2.34" height="2.34" fill="#000" stroke="#000" stroke-width="0.6"/>
<text x="57.3" y="337.8" font-family="Liberation Serif" font-style="italic" font-size="6.1" fill="#1a1a1a" transform="translate(57.3 335.9) scale(1 1.15) translate(-57.3 -335.9)">Staphylococcus aureus 5</text>
<line x1="33.1" y1="342.9" x2="54.6" y2="342.9" stroke="#a0a0a0" stroke-width="0.8" stroke-dasharray="1.2,1.2"/>
<path d="M44.1 341.17L45.68 344.2L42.52 344.2Z" fill="#fff" stroke="#000" stroke-width="0.9"/>
<text x="57.3" y="344.8" font-family="Liberation Serif" font-style="italic" font-size="6.1" fill="#1a1a1a" transform="translate(57.3 342.9) scale(1 1.15) translate(-57.3 -342.9)">Staphylococcus aureus 7</text>
<line x1="33.1" y1="350" x2="54.6" y2="350" stroke="#8a8a8a" stroke-width="0.8"/>
<path d="M44.1 348.27L45.83 350L44.1 351.73L42.37 350Z" fill="#fff" stroke="#000" stroke-width="0.9"/>
<text x="57.3" y="351.9" font-family="Liberation Serif" font-style="italic" font-size="6.1" fill="#1a1a1a" transform="translate(57.3 350) scale(1 1.15) translate(-57.3 -350)">Staphylococcus aureus 9</text>
<line x1="33.1" y1="357.4" x2="54.6" y2="357.4" stroke="#111111" stroke-width="1.4"/>
<rect x="42.84" y="356.14" width="2.52" height="2.52" fill="#fff" stroke="#000" stroke-width="0.9"/>
<text x="57.3" y="359.3" font-family="Liberation Serif" font-style="italic" font-size="6.1" fill="#1a1a1a" transform="translate(57.3 357.4) scale(1 1.15) translate(-57.3 -357.4)">Staphylococcus aureus ATCC 25923</text>
<line x1="207.7" y1="321.8" x2="229.2" y2="321.8" stroke="#8a8a8a" stroke-width="0.8"/>
<circle cx="218.4" cy="321.8" r="1.22" fill="#fff" stroke="#000" stroke-width="0.9"/>
<text x="231.1" y="323.7" font-family="Liberation Serif" font-style="italic" font-size="6.1" fill="#1a1a1a" transform="translate(231.1 321.8) scale(1 1.15) translate(-231.1 -321.8)">Staphylococcus aureus 2</text>
<line x1="207.7" y1="329" x2="229.2" y2="329" stroke="#8a8a8a" stroke-width="0.8"/>
<circle cx="218.4" cy="329" r="1.35" fill="#000" stroke="#000" stroke-width="0.8"/>
<text x="231.1" y="330.9" font-family="Liberation Serif" font-style="italic" font-size="6.1" fill="#1a1a1a" transform="translate(231.1 329) scale(1 1.15) translate(-231.1 -329)">Staphylococcus aureus 4</text>
<line x1="207.7" y1="335.9" x2="229.2" y2="335.9" stroke="#b5b5b5" stroke-width="0.8"/>
<rect x="217.95" y="335.45" width="0.9" height="0.9" fill="#000"/>
<text x="231.1" y="337.8" font-family="Liberation Serif" font-style="italic" font-size="6.1" fill="#1a1a1a" transform="translate(231.1 335.9) scale(1 1.15) translate(-231.1 -335.9)">Staphylococcus aureus 6</text>
<line x1="207.7" y1="342.9" x2="229.2" y2="342.9" stroke="#b5b5b5" stroke-width="0.8"/>
<rect x="217.95" y="342.45" width="0.9" height="0.9" fill="#000"/>
<text x="231.1" y="344.8" font-family="Liberation Serif" font-style="italic" font-size="6.1" fill="#1a1a1a" transform="translate(231.1 342.9) scale(1 1.15) translate(-231.1 -342.9)">Staphylococcus aureus 8</text>
<line x1="207.7" y1="350" x2="229.2" y2="350" stroke="#1a1a1a" stroke-width="1.3" stroke-dasharray="5,2.5"/>
<rect x="217.86" y="349.46" width="1.08" height="1.08" fill="#000"/>
<text x="231.1" y="351.9" font-family="Liberation Serif" font-style="italic" font-size="6.1" fill="#1a1a1a" transform="translate(231.1 350) scale(1 1.15) translate(-231.1 -350)">Staphylococcus aureus 10</text>
<line x1="207.7" y1="357.4" x2="229.2" y2="357.4" stroke="#000000" stroke-width="1.9" stroke-dasharray="5,1.6"/>
<path d="M218.4 355.02L220.68 359.37L216.12 359.37Z" fill="#000" stroke="#000" stroke-width="0.6"/>
<text x="231.1" y="359.3" font-family="Liberation Serif" font-style="italic" font-size="6.1" fill="#1a1a1a" transform="translate(231.1 357.4) scale(1 1.15) translate(-231.1 -357.4)">Staphylococcus aureus ATCC 43300</text>
<line x1="40.9" y1="467.23" x2="318.6" y2="467.23" stroke="#a9a9a9" stroke-width="1"/>
<line x1="40.9" y1="449.77" x2="318.6" y2="449.77" stroke="#a9a9a9" stroke-width="1"/>
<line x1="40.9" y1="432.3" x2="318.6" y2="432.3" stroke="#a9a9a9" stroke-width="1"/>
<line x1="40.9" y1="414.83" x2="318.6" y2="414.83" stroke="#a9a9a9" stroke-width="1"/>
<line x1="40.9" y1="397.37" x2="318.6" y2="397.37" stroke="#a9a9a9" stroke-width="1"/>
<line x1="40.9" y1="379.9" x2="318.6" y2="379.9" stroke="#a9a9a9" stroke-width="1"/>
<line x1="40.9" y1="379.9" x2="40.9" y2="487.2" stroke="#b0b0b0" stroke-width="1"/>
<line x1="40.9" y1="484.7" x2="318.6" y2="484.7" stroke="#b0b0b0" stroke-width="1"/>
<line x1="38.4" y1="484.7" x2="40.9" y2="484.7" stroke="#b0b0b0" stroke-width="1"/>
<line x1="38.4" y1="467.23" x2="40.9" y2="467.23" stroke="#b0b0b0" stroke-width="1"/>
<line x1="38.4" y1="449.77" x2="40.9" y2="449.77" stroke="#b0b0b0" stroke-width="1"/>
<line x1="38.4" y1="432.3" x2="40.9" y2="432.3" stroke="#b0b0b0" stroke-width="1"/>
<line x1="38.4" y1="414.83" x2="40.9" y2="414.83" stroke="#b0b0b0" stroke-width="1"/>
<line x1="38.4" y1="397.37" x2="40.9" y2="397.37" stroke="#b0b0b0" stroke-width="1"/>
<line x1="38.4" y1="379.9" x2="40.9" y2="379.9" stroke="#b0b0b0" stroke-width="1"/>
<line x1="64.04" y1="484.7" x2="64.04" y2="487.2" stroke="#b0b0b0" stroke-width="1"/>
<line x1="87.18" y1="484.7" x2="87.18" y2="487.2" stroke="#b0b0b0" stroke-width="1"/>
<line x1="110.33" y1="484.7" x2="110.33" y2="487.2" stroke="#b0b0b0" stroke-width="1"/>
<line x1="133.47" y1="484.7" x2="133.47" y2="487.2" stroke="#b0b0b0" stroke-width="1"/>
<line x1="156.61" y1="484.7" x2="156.61" y2="487.2" stroke="#b0b0b0" stroke-width="1"/>
<line x1="179.75" y1="484.7" x2="179.75" y2="487.2" stroke="#b0b0b0" stroke-width="1"/>
<line x1="202.89" y1="484.7" x2="202.89" y2="487.2" stroke="#b0b0b0" stroke-width="1"/>
<line x1="226.03" y1="484.7" x2="226.03" y2="487.2" stroke="#b0b0b0" stroke-width="1"/>
<line x1="249.18" y1="484.7" x2="249.18" y2="487.2" stroke="#b0b0b0" stroke-width="1"/>
<line x1="272.32" y1="484.7" x2="272.32" y2="487.2" stroke="#b0b0b0" stroke-width="1"/>
<line x1="295.46" y1="484.7" x2="295.46" y2="487.2" stroke="#b0b0b0" stroke-width="1"/>
<line x1="318.6" y1="484.7" x2="318.6" y2="487.2" stroke="#b0b0b0" stroke-width="1"/>
<text x="33.6" y="487.7" text-anchor="end" class="t" font-family="Liberation Serif" font-size="8.6" fill="#1a1a1a">0.000</text>
<text x="33.6" y="470.23" text-anchor="end" class="t" font-family="Liberation Serif" font-size="8.6" fill="#1a1a1a">0.200</text>
<text x="33.6" y="452.77" text-anchor="end" class="t" font-family="Liberation Serif" font-size="8.6" fill="#1a1a1a">0.400</text>
<text x="33.6" y="435.3" text-anchor="end" class="t" font-family="Liberation Serif" font-size="8.6" fill="#1a1a1a">0.600</text>
<text x="33.6" y="417.83" text-anchor="end" class="t" font-family="Liberation Serif" font-size="8.6" fill="#1a1a1a">0.800</text>
<text x="33.6" y="400.37" text-anchor="end" class="t" font-family="Liberation Serif" font-size="8.6" fill="#1a1a1a">1.000</text>
<text x="33.6" y="382.9" text-anchor="end" class="t" font-family="Liberation Serif" font-size="8.6" fill="#1a1a1a">1.200</text>
<text x="52.47" y="501" text-anchor="middle" class="t" font-family="Liberation Serif" font-size="8.4" fill="#1a1a1a">GC</text>
<text x="75.61" y="501" text-anchor="middle" class="t" font-family="Liberation Serif" font-size="8.4" fill="#1a1a1a">0.0125</text>
<text x="98.75" y="501" text-anchor="middle" class="t" font-family="Liberation Serif" font-size="8.4" fill="#1a1a1a">0.025</text>
<text x="121.9" y="501" text-anchor="middle" class="t" font-family="Liberation Serif" font-size="8.4" fill="#1a1a1a">0.05</text>
<text x="145.04" y="501" text-anchor="middle" class="t" font-family="Liberation Serif" font-size="8.4" fill="#1a1a1a">0.1</text>
<text x="168.18" y="501" text-anchor="middle" class="t" font-family="Liberation Serif" font-size="8.4" fill="#1a1a1a">0.2</text>
<text x="191.32" y="501" text-anchor="middle" class="t" font-family="Liberation Serif" font-size="8.4" fill="#1a1a1a">0.39</text>
<text x="214.46" y="501" text-anchor="middle" class="t" font-family="Liberation Serif" font-size="8.4" fill="#1a1a1a">0.78</text>
<text x="237.6" y="501" text-anchor="middle" class="t" font-family="Liberation Serif" font-size="8.4" fill="#1a1a1a">1.56</text>
<text x="260.75" y="501" text-anchor="middle" class="t" font-family="Liberation Serif" font-size="8.4" fill="#1a1a1a">3.125</text>
<text x="283.89" y="501" text-anchor="middle" class="t" font-family="Liberation Serif" font-size="8.4" fill="#1a1a1a">6.25</text>
<text x="307.03" y="501" text-anchor="middle" class="t" font-family="Liberation Serif" font-size="8.4" fill="#1a1a1a">12.5</text>
<text x="146.3" y="508.5" font-family="Liberation Sans" font-size="6.95" fill="#1a1a1a" transform="translate(146.3 508.5) scale(1.0 1) translate(-146.3 -508.5)">Concentration of EEPP [mg/mL]</text>
<text x="0" y="0" text-anchor="middle" class="t" font-family="Liberation Serif" font-size="8.35" fill="#1a1a1a" transform="translate(13.8 427.6) rotate(-90)">OD600</text>
<text x="319.6" y="394.7" class="t" font-family="Liberation Serif" font-size="10.5" font-weight="normal" fill="#1a1a1a">C</text>
<polyline points="52.47,394.4 75.61,400.86 98.75,402.61 121.9,410.47 145.04,427.93 168.18,441.03 191.32,480.33 214.46,484.7 237.6,484.7 260.75,484.7 283.89,484.7 307.03,484.7" fill="none" stroke="#111111" stroke-width="1.0" stroke-linejoin="round"/>
<polyline points="52.47,394.75 75.61,394.4 98.75,396.06 121.9,409.59 145.04,429.68 168.18,446.27 191.32,479.46 214.46,484.7" fill="none" stroke="#111111" stroke-width="1.2" stroke-linejoin="round"/>
<polyline points="52.47,400.86 75.61,406.1 98.75,406.1 121.9,411.34 145.04,431.43 168.18,449.77 191.32,480.33 214.46,484.7" fill="none" stroke="#6a6a6a" stroke-width="1.6" stroke-linejoin="round"/>
<polyline points="52.47,398.24 75.61,401.73 98.75,402.61 121.9,411.34 145.04,427.93 168.18,443.65 191.32,480.33 214.46,484.7" fill="none" stroke="#6a6a6a" stroke-width="1.6" stroke-linejoin="round"/>
<polyline points="52.47,403.48 75.61,415.71 98.75,415.71 121.9,421.82 145.04,431.43 168.18,453.26 191.32,481.21 214.46,484.7" fill="none" stroke="#111111" stroke-width="1.0" stroke-dasharray="2,1.2" stroke-linejoin="round"/>
<polyline points="52.47,399.99 75.61,406.1 98.75,407.85 121.9,422.69 145.04,429.68 168.18,451.51 191.32,480.33 214.46,484.7" fill="none" stroke="#333333" stroke-width="1.0" stroke-linejoin="round"/>
<polyline points="52.47,401.73 75.61,407.85 98.75,405.23 121.9,405.23 145.04,420.95 168.18,438.41 191.32,475.09 214.46,484.7" fill="none" stroke="#111111" stroke-width="1.0" stroke-dasharray="3,2" stroke-linejoin="round"/>
<polyline points="52.47,402.61 75.61,410.47 98.75,414.83 121.9,424.44 145.04,432.3 168.18,455.88 191.32,482.08 214.46,484.7" fill="none" stroke="#111111" stroke-width="1.0" stroke-dasharray="2,1.2" stroke-linejoin="round"/>
<polyline points="52.47,404.35 75.61,414.83 98.75,421.82 121.9,427.93 145.04,438.41 168.18,458.5 191.32,482.95 214.46,484.7" fill="none" stroke="#111111" stroke-width="1.0" stroke-dasharray="1.5,1" stroke-linejoin="round"/>
<polyline points="52.47,400.86 75.61,407.85 98.75,410.47 121.9,421.82 145.04,431.43 168.18,448.02 191.32,477.71 214.46,484.7" fill="none" stroke="#000000" stroke-width="1.7" stroke-dasharray="5,4" stroke-linejoin="round"/>
<polyline points="52.47,395.62 75.61,395.62 98.75,397.37 121.9,410.47 145.04,427.93 168.18,444.53 191.32,484.7 214.46,484.7" fill="none" stroke="#000000" stroke-width="1.2" stroke-linejoin="round"/>
<polyline points="52.47,407.85 75.61,401.73 98.75,403.48 121.9,411.34 145.04,428.81 168.18,441.03 191.32,475.97 214.46,484.7 237.6,484.7 260.75,484.7 283.89,484.7 307.03,484.7" fill="none" stroke="#000000" stroke-width="1.5" stroke-dasharray="1,2" stroke-linecap="round" stroke-linejoin="round"/>
<circle cx="52.47" cy="394.4" r="1.23" fill="#0a0a6e" stroke="#0a0a6e" stroke-width="0.8"/>
<circle cx="75.61" cy="400.86" r="1.23" fill="#0a0a6e" stroke="#0a0a6e" stroke-width="0.8"/>
<circle cx="98.75" cy="402.61" r="1.23" fill="#0a0a6e" stroke="#0a0a6e" stroke-width="0.8"/>
<circle cx="121.9" cy="410.47" r="1.23" fill="#0a0a6e" stroke="#0a0a6e" stroke-width="0.8"/>
<circle cx="145.04" cy="427.93" r="1.23" fill="#0a0a6e" stroke="#0a0a6e" stroke-width="0.8"/>
<circle cx="168.18" cy="441.03" r="1.23" fill="#0a0a6e" stroke="#0a0a6e" stroke-width="0.8"/>
<circle cx="191.32" cy="480.33" r="1.23" fill="#0a0a6e" stroke="#0a0a6e" stroke-width="0.8"/>
<circle cx="214.46" cy="484.7" r="1.23" fill="#0a0a6e" stroke="#0a0a6e" stroke-width="0.8"/>
<circle cx="237.6" cy="484.7" r="1.23" fill="#0a0a6e" stroke="#0a0a6e" stroke-width="0.8"/>
<circle cx="260.75" cy="484.7" r="1.23" fill="#0a0a6e" stroke="#0a0a6e" stroke-width="0.8"/>
<circle cx="283.89" cy="484.7" r="1.23" fill="#0a0a6e" stroke="#0a0a6e" stroke-width="0.8"/>
<circle cx="307.03" cy="484.7" r="1.23" fill="#0a0a6e" stroke="#0a0a6e" stroke-width="0.8"/>
<circle cx="52.47" cy="394.75" r="1.37" fill="#fff" stroke="#000" stroke-width="0.9"/>
<circle cx="75.61" cy="394.4" r="1.37" fill="#fff" stroke="#000" stroke-width="0.9"/>
<circle cx="98.75" cy="396.06" r="1.37" fill="#fff" stroke="#000" stroke-width="0.9"/>
<circle cx="121.9" cy="409.59" r="1.37" fill="#fff" stroke="#000" stroke-width="0.9"/>
<circle cx="145.04" cy="429.68" r="1.37" fill="#fff" stroke="#000" stroke-width="0.9"/>
<circle cx="168.18" cy="446.27" r="1.37" fill="#fff" stroke="#000" stroke-width="0.9"/>
<circle cx="191.32" cy="479.46" r="1.37" fill="#fff" stroke="#000" stroke-width="0.9"/>
<circle cx="214.46" cy="484.7" r="1.37" fill="#fff" stroke="#000" stroke-width="0.9"/>
<path d="M52.47 398.92L54.25 402.31L50.69 402.31Z" fill="#fff" stroke="#000" stroke-width="0.9"/>
<path d="M75.61 404.16L77.39 407.55L73.84 407.55Z" fill="#fff" stroke="#000" stroke-width="0.9"/>
<path d="M98.75 404.16L100.53 407.55L96.98 407.55Z" fill="#fff" stroke="#000" stroke-width="0.9"/>
<path d="M121.9 409.4L123.67 412.79L120.12 412.79Z" fill="#fff" stroke="#000" stroke-width="0.9"/>
<path d="M145.04 429.49L146.81 432.88L143.26 432.88Z" fill="#fff" stroke="#000" stroke-width="0.9"/>
<path d="M168.18 447.83L169.96 451.22L166.4 451.22Z" fill="#fff" stroke="#000" stroke-width="0.9"/>
<path d="M191.32 478.4L193.1 481.79L189.54 481.79Z" fill="#fff" stroke="#000" stroke-width="0.9"/>
<path d="M214.46 482.76L216.24 486.15L212.69 486.15Z" fill="#fff" stroke="#000" stroke-width="0.9"/>
<path d="M52.47 396.53L54.18 398.24L52.47 399.95L50.76 398.24Z" fill="#000" stroke="#000" stroke-width="0.6"/>
<path d="M75.61 400.02L77.32 401.73L75.61 403.44L73.9 401.73Z" fill="#000" stroke="#000" stroke-width="0.6"/>
<path d="M98.75 400.9L100.46 402.61L98.75 404.32L97.04 402.61Z" fill="#000" stroke="#000" stroke-width="0.6"/>
<path d="M121.9 409.63L123.61 411.34L121.9 413.05L120.19 411.34Z" fill="#000" stroke="#000" stroke-width="0.6"/>
<path d="M145.04 426.22L146.75 427.93L145.04 429.64L143.33 427.93Z" fill="#000" stroke="#000" stroke-width="0.6"/>
<path d="M168.18 441.94L169.89 443.65L168.18 445.36L166.47 443.65Z" fill="#000" stroke="#000" stroke-width="0.6"/>
<path d="M191.32 478.62L193.03 480.33L191.32 482.04L189.61 480.33Z" fill="#000" stroke="#000" stroke-width="0.6"/>
<path d="M214.46 482.99L216.17 484.7L214.46 486.41L212.75 484.7Z" fill="#000" stroke="#000" stroke-width="0.6"/>
<rect x="51.24" y="402.24" width="2.47" height="2.47" fill="#000" stroke="#000" stroke-width="0.6"/><path d="M51.73 402.74L53.21 404.22M53.21 402.74L51.73 404.22" stroke="#fff" stroke-width="0.5"/>
<rect x="74.38" y="414.47" width="2.47" height="2.47" fill="#000" stroke="#000" stroke-width="0.6"/><path d="M74.87 414.97L76.35 416.45M76.35 414.97L74.87 416.45" stroke="#fff" stroke-width="0.5"/>
<rect x="97.52" y="414.47" width="2.47" height="2.47" fill="#000" stroke="#000" stroke-width="0.6"/><path d="M98.01 414.97L99.5 416.45M99.5 414.97L98.01 416.45" stroke="#fff" stroke-width="0.5"/>
<rect x="120.66" y="420.58" width="2.47" height="2.47" fill="#000" stroke="#000" stroke-width="0.6"/><path d="M121.15 421.08L122.64 422.56M122.64 421.08L121.15 422.56" stroke="#fff" stroke-width="0.5"/>
<rect x="143.8" y="430.19" width="2.47" height="2.47" fill="#000" stroke="#000" stroke-width="0.6"/><path d="M144.3 430.69L145.78 432.17M145.78 430.69L144.3 432.17" stroke="#fff" stroke-width="0.5"/>
<rect x="166.94" y="452.02" width="2.47" height="2.47" fill="#000" stroke="#000" stroke-width="0.6"/><path d="M167.44 452.52L168.92 454M168.92 452.52L167.44 454" stroke="#fff" stroke-width="0.5"/>
<rect x="190.09" y="479.97" width="2.47" height="2.47" fill="#000" stroke="#000" stroke-width="0.6"/><path d="M190.58 480.47L192.06 481.95M192.06 480.47L190.58 481.95" stroke="#fff" stroke-width="0.5"/>
<rect x="213.23" y="483.46" width="2.47" height="2.47" fill="#000" stroke="#000" stroke-width="0.6"/><path d="M213.72 483.96L215.2 485.44M215.2 483.96L213.72 485.44" stroke="#fff" stroke-width="0.5"/>
<path d="M52.47 398.68L53.72 401.07L51.22 401.07Z" fill="#000" stroke="#000" stroke-width="0.6"/>
<path d="M75.61 404.79L76.87 407.18L74.36 407.18Z" fill="#000" stroke="#000" stroke-width="0.6"/>
<path d="M98.75 406.54L100.01 408.93L97.5 408.93Z" fill="#000" stroke="#000" stroke-width="0.6"/>
<path d="M121.9 421.38L123.15 423.78L120.64 423.78Z" fill="#000" stroke="#000" stroke-width="0.6"/>
<path d="M145.04 428.37L146.29 430.76L143.78 430.76Z" fill="#000" stroke="#000" stroke-width="0.6"/>
<path d="M168.18 450.2L169.43 452.6L166.93 452.6Z" fill="#000" stroke="#000" stroke-width="0.6"/>
<path d="M191.32 479.02L192.57 481.42L190.07 481.42Z" fill="#000" stroke="#000" stroke-width="0.6"/>
<path d="M214.46 483.39L215.72 485.78L213.21 485.78Z" fill="#000" stroke="#000" stroke-width="0.6"/>
<path d="M52.47 399.91L54.14 403.1L50.8 403.1Z" fill="#fff" stroke="#000" stroke-width="0.9"/>
<path d="M75.61 406.02L77.28 409.21L73.94 409.21Z" fill="#fff" stroke="#000" stroke-width="0.9"/>
<path d="M98.75 403.4L100.43 406.59L97.08 406.59Z" fill="#fff" stroke="#000" stroke-width="0.9"/>
<path d="M121.9 403.4L123.57 406.59L120.22 406.59Z" fill="#fff" stroke="#000" stroke-width="0.9"/>
<path d="M145.04 419.12L146.71 422.31L143.37 422.31Z" fill="#fff" stroke="#000" stroke-width="0.9"/>
<path d="M168.18 436.59L169.85 439.78L166.51 439.78Z" fill="#fff" stroke="#000" stroke-width="0.9"/>
<path d="M191.32 473.27L192.99 476.46L189.65 476.46Z" fill="#fff" stroke="#000" stroke-width="0.9"/>
<path d="M214.46 482.88L216.13 486.07L212.79 486.07Z" fill="#fff" stroke="#000" stroke-width="0.9"/>
<path d="M52.47 401.4L53.62 403.6L51.32 403.6Z" fill="#000" stroke="#000" stroke-width="0.6"/>
<path d="M75.61 409.26L76.76 411.46L74.46 411.46Z" fill="#000" stroke="#000" stroke-width="0.6"/>
<path d="M98.75 413.63L99.9 415.83L97.6 415.83Z" fill="#000" stroke="#000" stroke-width="0.6"/>
<path d="M121.9 423.24L123.05 425.43L120.75 425.43Z" fill="#000" stroke="#000" stroke-width="0.6"/>
<path d="M145.04 431.1L146.19 433.29L143.89 433.29Z" fill="#000" stroke="#000" stroke-width="0.6"/>
<path d="M168.18 454.68L169.33 456.87L167.03 456.87Z" fill="#000" stroke="#000" stroke-width="0.6"/>
<path d="M191.32 480.88L192.47 483.07L190.17 483.07Z" fill="#000" stroke="#000" stroke-width="0.6"/>
<path d="M214.46 483.5L215.61 485.69L213.31 485.69Z" fill="#000" stroke="#000" stroke-width="0.6"/>
<circle cx="52.47" cy="404.35" r="1.29" fill="#fff" stroke="#000" stroke-width="0.9"/>
<circle cx="75.61" cy="414.83" r="1.29" fill="#fff" stroke="#000" stroke-width="0.9"/>
<circle cx="98.75" cy="421.82" r="1.29" fill="#fff" stroke="#000" stroke-width="0.9"/>
<circle cx="121.9" cy="427.93" r="1.29" fill="#fff" stroke="#000" stroke-width="0.9"/>
<circle cx="145.04" cy="438.41" r="1.29" fill="#fff" stroke="#000" stroke-width="0.9"/>
<circle cx="168.18" cy="458.5" r="1.29" fill="#fff" stroke="#000" stroke-width="0.9"/>
<circle cx="191.32" cy="482.95" r="1.29" fill="#fff" stroke="#000" stroke-width="0.9"/>
<circle cx="214.46" cy="484.7" r="1.29" fill="#fff" stroke="#000" stroke-width="0.9"/>
<rect x="51.05" y="394.19" width="2.85" height="2.85" fill="#fff" stroke="#000" stroke-width="0.9"/>
<rect x="74.19" y="394.19" width="2.85" height="2.85" fill="#fff" stroke="#000" stroke-width="0.9"/>
<rect x="97.33" y="395.94" width="2.85" height="2.85" fill="#fff" stroke="#000" stroke-width="0.9"/>
<rect x="120.47" y="409.04" width="2.85" height="2.85" fill="#fff" stroke="#000" stroke-width="0.9"/>
<rect x="143.61" y="426.51" width="2.85" height="2.85" fill="#fff" stroke="#000" stroke-width="0.9"/>
<rect x="166.75" y="443.1" width="2.85" height="2.85" fill="#fff" stroke="#000" stroke-width="0.9"/>
<rect x="189.9" y="483.27" width="2.85" height="2.85" fill="#fff" stroke="#000" stroke-width="0.9"/>
<rect x="213.04" y="483.27" width="2.85" height="2.85" fill="#fff" stroke="#000" stroke-width="0.9"/>
<path d="M52.47 405.01L55.19 410.19L49.75 410.19Z" fill="#000" stroke="#000" stroke-width="0.6"/>
<path d="M75.61 398.89L78.33 404.08L72.9 404.08Z" fill="#000" stroke="#000" stroke-width="0.6"/>
<path d="M98.75 400.64L101.47 405.83L96.04 405.83Z" fill="#000" stroke="#000" stroke-width="0.6"/>
<path d="M121.9 408.5L124.61 413.69L119.18 413.69Z" fill="#000" stroke="#000" stroke-width="0.6"/>
<path d="M145.04 425.97L147.75 431.15L142.32 431.15Z" fill="#000" stroke="#000" stroke-width="0.6"/>
<path d="M168.18 438.19L170.9 443.38L165.46 443.38Z" fill="#000" stroke="#000" stroke-width="0.6"/>
<path d="M191.32 473.13L194.04 478.31L188.6 478.31Z" fill="#000" stroke="#000" stroke-width="0.6"/>
<path d="M214.46 481.86L217.18 487.05L211.75 487.05Z" fill="#000" stroke="#000" stroke-width="0.6"/>
<path d="M237.6 481.86L240.32 487.05L234.89 487.05Z" fill="#000" stroke="#000" stroke-width="0.6"/>
<path d="M260.75 481.86L263.46 487.05L258.03 487.05Z" fill="#000" stroke="#000" stroke-width="0.6"/>
<path d="M283.89 481.86L286.6 487.05L281.17 487.05Z" fill="#000" stroke="#000" stroke-width="0.6"/>
<path d="M307.03 481.86L309.75 487.05L304.31 487.05Z" fill="#000" stroke="#000" stroke-width="0.6"/>
<line x1="33.9" y1="512.4" x2="55.7" y2="512.4" stroke="#111111" stroke-width="1.0"/>
<circle cx="44.6" cy="512.4" r="1.43" fill="#0a0a6e" stroke="#0a0a6e" stroke-width="0.8"/>
<text x="58.1" y="514.4" font-family="Liberation Serif" font-style="italic" font-size="6.3" fill="#1a1a1a" transform="translate(58.1 512.4) scale(1 1.08) translate(-58.1 -512.4)">Staphylococcus aureus 1</text>
<line x1="33.9" y1="518.8" x2="55.7" y2="518.8" stroke="#6a6a6a" stroke-width="1.6"/>
<path d="M44.6 516.56L46.66 520.48L42.54 520.48Z" fill="#fff" stroke="#000" stroke-width="0.9"/>
<text x="58.1" y="520.8" font-family="Liberation Serif" font-style="italic" font-size="6.3" fill="#1a1a1a" transform="translate(58.1 518.8) scale(1 1.08) translate(-58.1 -518.8)">Staphylococcus aureus 3</text>
<line x1="33.9" y1="525.3" x2="55.7" y2="525.3" stroke="#111111" stroke-width="1.0" stroke-dasharray="2,1.2"/>
<rect x="43.17" y="523.87" width="2.86" height="2.86" fill="#000" stroke="#000" stroke-width="0.6"/><path d="M43.74 524.44L45.46 526.16M45.46 524.44L43.74 526.16" stroke="#fff" stroke-width="0.5"/>
<text x="58.1" y="527.3" font-family="Liberation Serif" font-style="italic" font-size="6.3" fill="#1a1a1a" transform="translate(58.1 525.3) scale(1 1.08) translate(-58.1 -525.3)">Staphylococcus aureus 5</text>
<line x1="33.9" y1="531.7" x2="55.7" y2="531.7" stroke="#111111" stroke-width="1.0" stroke-dasharray="3,2"/>
<path d="M44.6 529.59L46.54 533.28L42.66 533.28Z" fill="#fff" stroke="#000" stroke-width="0.9"/>
<text x="58.1" y="533.7" font-family="Liberation Serif" font-style="italic" font-size="6.3" fill="#1a1a1a" transform="translate(58.1 531.7) scale(1 1.08) translate(-58.1 -531.7)">Staphylococcus aureus 7</text>
<line x1="33.9" y1="538" x2="55.7" y2="538" stroke="#111111" stroke-width="1.0" stroke-dasharray="1.5,1"/>
<circle cx="44.6" cy="538" r="1.5" fill="#fff" stroke="#000" stroke-width="0.9"/>
<text x="58.1" y="540" font-family="Liberation Serif" font-style="italic" font-size="6.3" fill="#1a1a1a" transform="translate(58.1 538) scale(1 1.08) translate(-58.1 -538)">Staphylococcus aureus 9</text>
<line x1="33.9" y1="544.4" x2="55.7" y2="544.4" stroke="#000000" stroke-width="1.2"/>
<rect x="42.95" y="542.75" width="3.3" height="3.3" fill="#fff" stroke="#000" stroke-width="0.9"/>
<text x="58.1" y="546.4" font-family="Liberation Serif" font-style="italic" font-size="6.3" fill="#1a1a1a" transform="translate(58.1 544.4) scale(1 1.08) translate(-58.1 -544.4)">Staphylococcus aureus ATCC 25923</text>
<line x1="208.9" y1="512.4" x2="230.8" y2="512.4" stroke="#111111" stroke-width="1.2"/>
<circle cx="219.6" cy="512.4" r="1.59" fill="#fff" stroke="#000" stroke-width="0.9"/>
<text x="232.6" y="514.4" font-family="Liberation Serif" font-style="italic" font-size="6.3" fill="#1a1a1a" transform="translate(232.6 512.4) scale(1 1.08) translate(-232.6 -512.4)">Staphylococcus aureus 2</text>
<line x1="208.9" y1="518.8" x2="230.8" y2="518.8" stroke="#6a6a6a" stroke-width="1.6"/>
<path d="M219.6 516.82L221.58 518.8L219.6 520.78L217.62 518.8Z" fill="#000" stroke="#000" stroke-width="0.6"/>
<text x="232.6" y="520.8" font-family="Liberation Serif" font-style="italic" font-size="6.3" fill="#1a1a1a" transform="translate(232.6 518.8) scale(1 1.08) translate(-232.6 -518.8)">Staphylococcus aureus 4</text>
<line x1="208.9" y1="525.3" x2="230.8" y2="525.3" stroke="#333333" stroke-width="1.0"/>
<path d="M219.6 523.78L221.05 526.55L218.15 526.55Z" fill="#000" stroke="#000" stroke-width="0.6"/>
<text x="232.6" y="527.3" font-family="Liberation Serif" font-style="italic" font-size="6.3" fill="#1a1a1a" transform="translate(232.6 525.3) scale(1 1.08) translate(-232.6 -525.3)">Staphylococcus aureus 6</text>
<line x1="208.9" y1="531.7" x2="230.8" y2="531.7" stroke="#111111" stroke-width="1.0" stroke-dasharray="2,1.2"/>
<path d="M219.6 530.31L220.93 532.85L218.27 532.85Z" fill="#000" stroke="#000" stroke-width="0.6"/>
<text x="232.6" y="533.7" font-family="Liberation Serif" font-style="italic" font-size="6.3" fill="#1a1a1a" transform="translate(232.6 531.7) scale(1 1.08) translate(-232.6 -531.7)">Staphylococcus aureus 8</text>
<line x1="208.9" y1="538" x2="230.8" y2="538" stroke="#000000" stroke-width="1.7" stroke-dasharray="5,4"/>

<text x="232.6" y="540" font-family="Liberation Serif" font-style="italic" font-size="6.3" fill="#1a1a1a" transform="translate(232.6 538) scale(1 1.08) translate(-232.6 -538)">Staphylococcus aureus 10</text>
<line x1="208.9" y1="544.4" x2="230.8" y2="544.4" stroke="#000000" stroke-width="1.5" stroke-dasharray="1,2" stroke-linecap="round"/>
<path d="M219.6 541.99L221.91 546.39L217.29 546.39Z" fill="#000" stroke="#000" stroke-width="0.6"/>
<text x="232.6" y="546.4" font-family="Liberation Serif" font-style="italic" font-size="6.3" fill="#1a1a1a" transform="translate(232.6 544.4) scale(1 1.08) translate(-232.6 -544.4)">Staphylococcus aureus ATCC 43300</text>
</svg>
</body></html>
